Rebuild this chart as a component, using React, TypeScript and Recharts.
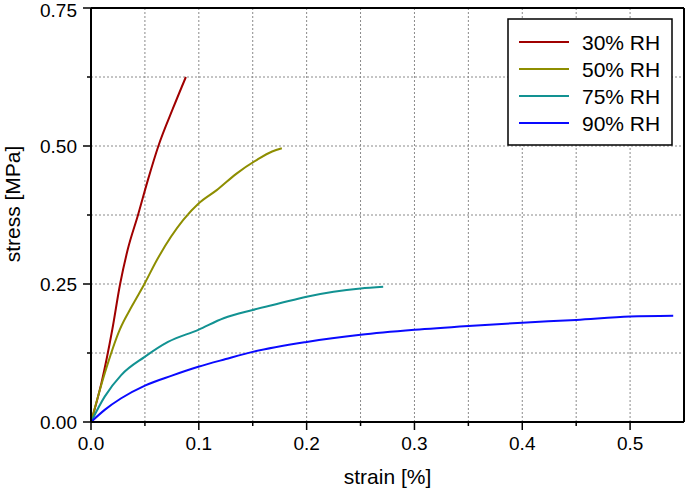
import React from 'react';
import { LineChart, Line, XAxis, YAxis, CartesianGrid, ReferenceLine } from 'recharts';

// strain [%] / stress [MPa]
const strain30 = [0, 0.0096, 0.0198, 0.027, 0.034, 0.0436, 0.053, 0.0625, 0.076, 0.088];
const stress30 = [0, 0.07, 0.168, 0.25, 0.312, 0.375, 0.44, 0.5, 0.568, 0.625];

const strain50 = [0, 0.0127, 0.0266, 0.038, 0.0498, 0.061, 0.0856, 0.1005, 0.1166, 0.135, 0.154, 0.168, 0.177];
const stress50 = [0, 0.088, 0.167, 0.21, 0.251, 0.293, 0.366, 0.397, 0.42, 0.45, 0.475, 0.49, 0.496];

const strain75 = [0, 0.0127, 0.028, 0.0498, 0.0714, 0.0995, 0.123, 0.15, 0.175, 0.2, 0.225, 0.25, 0.271];
const stress75 = [0, 0.046, 0.085, 0.118, 0.145, 0.167, 0.188, 0.203, 0.215, 0.227, 0.236, 0.242, 0.245];

const strain90 = [0, 0.0127, 0.028, 0.05, 0.075, 0.0995, 0.125, 0.15, 0.2, 0.25, 0.3, 0.35, 0.4, 0.45, 0.5, 0.54];
const stress90 = [0, 0.022, 0.043, 0.066, 0.084, 0.1, 0.114, 0.127, 0.145, 0.158, 0.167, 0.174, 0.18, 0.185, 0.191, 0.1925];

const xTicks = [0, 0.05, 0.1, 0.15, 0.2, 0.25, 0.3, 0.35, 0.4, 0.45, 0.5];
const yTicks = [0, 0.125, 0.25, 0.375, 0.5, 0.625, 0.75];

const toPoints = (xs: number[], ys: number[]) => xs.map((x, i) => ({ strain: x, stress: ys[i] }));

const SERIES = [
  { name: '30% RH', color: '#a00000', data: toPoints(strain30, stress30) },
  { name: '50% RH', color: '#8e8e00', data: toPoints(strain50, stress50) },
  { name: '75% RH', color: '#129292', data: toPoints(strain75, stress75) },
  { name: '90% RH', color: '#0a0aff', data: toPoints(strain90, stress90) },
];

const FONT = '"Liberation Sans", Arial, sans-serif';

const XTick = ({ x, y, payload }: any) => {
  const major = Math.round(payload.value * 100) % 10 === 0;
  return (
    <g>
      <line x1={x} x2={x} y1={y} y2={y + (major ? 8 : 4)} stroke="#000" strokeWidth={1.5} />
      {major && (
        <text x={x} y={y + 28} textAnchor="middle" fontSize={19} fill="#000" fontFamily={FONT}>
          {payload.value.toFixed(1)}
        </text>
      )}
    </g>
  );
};

const YTick = ({ x, y, payload }: any) => {
  const major = Math.round(payload.value * 1000) % 250 === 0;
  // keep the top label inside the page
  const ty = Math.max(y, 10.5);
  return (
    <g>
      <line x1={x} x2={x - (major ? 8 : 4)} y1={y} y2={y} stroke="#000" strokeWidth={1.5} />
      {major && (
        <text x={x - 14} y={ty} dy="0.36em" textAnchor="end" fontSize={19} fill="#000" fontFamily={FONT}>
          {payload.value.toFixed(2)}
        </text>
      )}
    </g>
  );
};

const XTitle = ({ viewBox }: any) => (
  <text x={viewBox.x + viewBox.width / 2} y={viewBox.y + 62} textAnchor="middle" fontSize={21} fill="#000" fontFamily={FONT}>
    strain [%]
  </text>
);

const YTitle = ({ viewBox }: any) => {
  const cx = 12;
  const cy = viewBox.y + viewBox.height / 2 - 11;
  return (
    <text x={cx} y={cy} transform={`rotate(-90, ${cx}, ${cy})`} textAnchor="middle" dominantBaseline="central" fontSize={21} fill="#000" fontFamily={FONT}>
      stress [MPa]
    </text>
  );
};

const LegendBox = () => (
  <svg width={166} height={128} style={{ position: 'absolute', left: 507, top: 18 }}>
    <rect x={1} y={1} width={164} height={126} fill="#fff" stroke="#000" strokeWidth={1.5} />
    {SERIES.map((s, i) => (
      <g key={s.name}>
        <line x1={12} x2={62} y1={24 + i * 27} y2={24 + i * 27} stroke={s.color} strokeWidth={2} />
        <text x={75} y={24 + i * 27} dy="0.36em" fontSize={21} fill="#000" fontFamily={FONT}>{s.name}</text>
      </g>
    ))}
  </svg>
);

export default function App() {
  return (
    <div style={{ position: 'relative', width: 685, height: 489, fontFamily: FONT }}>
      <style>{'body{margin:0}'}</style>
      <LineChart width={685} height={489} margin={{ top: 8, right: 1, bottom: 0, left: 0 }}>
        <CartesianGrid stroke="#8a8a8a" strokeDasharray="2 2" strokeWidth={1} />
        <XAxis
          type="number"
          dataKey="strain"
          domain={[0, 0.55]}
          ticks={xTicks}
          interval={0}
          height={67}
          tickSize={0}
          tickMargin={0}
          tickLine={false}
          axisLine={{ stroke: '#000', strokeWidth: 2 }}
          tick={<XTick />}
          label={{ content: <XTitle /> }}
        />
        <YAxis
          type="number"
          dataKey="stress"
          domain={[0, 0.75]}
          ticks={yTicks}
          interval={0}
          width={91}
          tickSize={0}
          tickMargin={0}
          tickLine={false}
          axisLine={{ stroke: '#000', strokeWidth: 2 }}
          tick={<YTick />}
          label={{ content: <YTitle /> }}
        />
        <ReferenceLine y={0.75} stroke="#000" strokeWidth={2} />
        <ReferenceLine x={0.55} stroke="#000" strokeWidth={2} />
        {SERIES.map((s) => (
          <Line
            key={s.name}
            data={s.data}
            dataKey="stress"
            name={s.name}
            type="monotone"
            stroke={s.color}
            strokeWidth={2}
            dot={false}
            activeDot={false}
            isAnimationActive={false}
          />
        ))}
      </LineChart>
      <LegendBox />
    </div>
  );
}
